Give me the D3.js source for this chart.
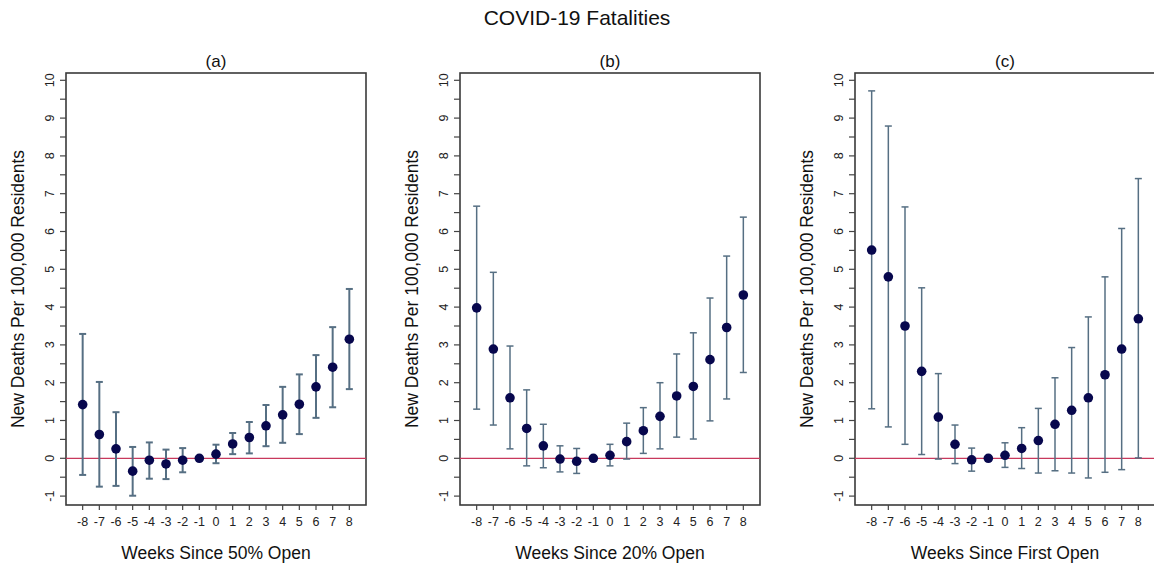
<!DOCTYPE html>
<html>
<head>
<meta charset="utf-8">
<script src="https://cdn.jsdelivr.net/npm/d3@7"></script>
<style>
  html, body { margin: 0; padding: 0; background: #fff; }
  svg { display: block; font-family: "Liberation Sans", Arial, sans-serif; }
</style>
</head>
<body>
<svg id="chart" width="1154" height="569"></svg>
<script>
// Event-study estimates: weeks relative to reopening
const weeks = [-8, -7, -6, -5, -4, -3, -2, -1, 0, 1, 2, 3, 4, 5, 6, 7, 8];

// (a) 50% open
const estA = [1.42, 0.63, 0.25, -0.34, -0.05, -0.15, -0.05, 0, 0.11, 0.38, 0.55, 0.86, 1.15, 1.43, 1.89, 2.41, 3.15];
const hiA  = [3.29, 2.02, 1.22, 0.30, 0.42, 0.23, 0.27, 0, 0.36, 0.67, 0.96, 1.41, 1.89, 2.22, 2.73, 3.47, 4.48];
const loA  = [-0.44, -0.75, -0.73, -0.99, -0.54, -0.55, -0.37, 0, -0.13, 0.11, 0.13, 0.32, 0.41, 0.64, 1.07, 1.35, 1.83];

// (b) 20% open
const estB = [3.98, 2.89, 1.60, 0.79, 0.33, -0.02, -0.08, 0, 0.08, 0.44, 0.73, 1.11, 1.65, 1.90, 2.61, 3.46, 4.32];
const hiB  = [6.67, 4.92, 2.97, 1.81, 0.90, 0.33, 0.26, 0, 0.37, 0.93, 1.34, 2.00, 2.76, 3.32, 4.24, 5.35, 6.38];
const loB  = [1.30, 0.88, 0.25, -0.20, -0.25, -0.36, -0.40, 0, -0.20, -0.02, 0.13, 0.25, 0.56, 0.51, 0.99, 1.57, 2.27];

// (c) first open
const estC = [5.51, 4.80, 3.50, 2.30, 1.09, 0.37, -0.04, 0, 0.08, 0.26, 0.47, 0.90, 1.27, 1.60, 2.21, 2.89, 3.69];
const hiC  = [9.72, 8.79, 6.65, 4.51, 2.24, 0.88, 0.27, 0, 0.41, 0.81, 1.32, 2.13, 2.93, 3.74, 4.80, 6.08, 7.40];
const loC  = [1.31, 0.83, 0.37, 0.10, -0.02, -0.14, -0.34, 0, -0.24, -0.27, -0.39, -0.33, -0.39, -0.52, -0.37, -0.30, 0.01];

const yTickValues = d3.range(-1, 10.001, 0.5);
const yLabelValues = d3.range(-1, 11, 1);

const chartTitle = "COVID-19 Fatalities";
const yTitle = "New Deaths Per 100,000 Residents";
const panels = [
  { tag: "(a)", xTitle: "Weeks Since 50% Open", est: estA, hi: hiA, lo: loA },
  { tag: "(b)", xTitle: "Weeks Since 20% Open", est: estB, hi: hiB, lo: loB },
  { tag: "(c)", xTitle: "Weeks Since First Open", est: estC, hi: hiC, lo: loC }
];

const svg = d3.select("#chart");

// plot-region geometry
const panelLeft = [66, 460, 855];
const plotW = 300;
const boxTop = 73, boxBottom = 505;

const y = d3.scaleLinear().domain([-1, 10]).range([496.1, 80.3]);

svg.append("text")
  .attr("x", 577).attr("y", 25)
  .attr("text-anchor", "middle")
  .attr("font-size", 21)
  .attr("fill", "#111")
  .text(chartTitle);

const barColor = "#566f83";
const dotColor = "#07074d";

panels.forEach((p, i) => {
  const left = panelLeft[i];
  const x = d3.scaleLinear().domain([-9, 9]).range([left, left + plotW]);
  const g = svg.append("g");

  // plot frame
  g.append("rect")
    .attr("x", left).attr("y", boxTop)
    .attr("width", plotW).attr("height", boxBottom - boxTop)
    .attr("fill", "none").attr("stroke", "#3a3a3a").attr("stroke-width", 1.6);

  // y axis ticks (every 0.5) and integer labels
  g.selectAll(".yt").data(yTickValues).join("line")
    .attr("x1", left - 6).attr("x2", left)
    .attr("y1", d => y(d)).attr("y2", d => y(d))
    .attr("stroke", "#444").attr("stroke-width", 1.2);
  g.selectAll(".yl").data(yLabelValues).join("text")
    .attr("transform", d => `translate(${left - 12},${y(d)}) rotate(-90)`)
    .attr("text-anchor", "middle")
    .attr("font-size", 12.5)
    .attr("fill", "#222")
    .text(d => d);

  // x axis ticks and labels
  g.selectAll(".xt").data(weeks).join("line")
    .attr("x1", d => x(d)).attr("x2", d => x(d))
    .attr("y1", boxBottom).attr("y2", boxBottom + 5)
    .attr("stroke", "#444").attr("stroke-width", 1.2);
  g.selectAll(".xl").data(weeks).join("text")
    .attr("x", d => x(d)).attr("y", boxBottom + 21)
    .attr("text-anchor", "middle")
    .attr("font-size", 12.5)
    .attr("fill", "#222")
    .text(d => d);

  // zero reference line
  g.append("line")
    .attr("x1", left).attr("x2", left + plotW)
    .attr("y1", y(0)).attr("y2", y(0))
    .attr("stroke", "#c8385c").attr("stroke-width", 1.2);

  // confidence intervals
  const rows = weeks.map((w, k) => ({ w, est: p.est[k], hi: p.hi[k], lo: p.lo[k] }));
  const ci = g.append("g").attr("stroke", barColor).attr("stroke-width", i === 0 ? 2 : 1.5);
  rows.filter(r => r.hi !== r.lo).forEach(r => {
    ci.append("line").attr("x1", x(r.w)).attr("x2", x(r.w)).attr("y1", y(r.hi)).attr("y2", y(r.lo));
    ci.append("line").attr("x1", x(r.w) - 3.5).attr("x2", x(r.w) + 3.5).attr("y1", y(r.hi)).attr("y2", y(r.hi));
    ci.append("line").attr("x1", x(r.w) - 3.5).attr("x2", x(r.w) + 3.5).attr("y1", y(r.lo)).attr("y2", y(r.lo));
  });

  // point estimates
  g.selectAll(".pt").data(rows).join("circle")
    .attr("cx", r => x(r.w)).attr("cy", r => y(r.est))
    .attr("r", 4.8).attr("fill", dotColor);

  // titles
  g.append("text")
    .attr("x", left + plotW / 2).attr("y", 67)
    .attr("text-anchor", "middle").attr("font-size", 17).attr("fill", "#111")
    .text(p.tag);
  g.append("text")
    .attr("x", left + plotW / 2).attr("y", 559)
    .attr("text-anchor", "middle").attr("font-size", 17.5).attr("fill", "#111")
    .text(p.xTitle);
  g.append("text")
    .attr("transform", `translate(${left - 42},${(boxTop + boxBottom) / 2}) rotate(-90)`)
    .attr("text-anchor", "middle").attr("font-size", 17.5).attr("fill", "#111")
    .text(yTitle);
});
</script>
</body>
</html>
